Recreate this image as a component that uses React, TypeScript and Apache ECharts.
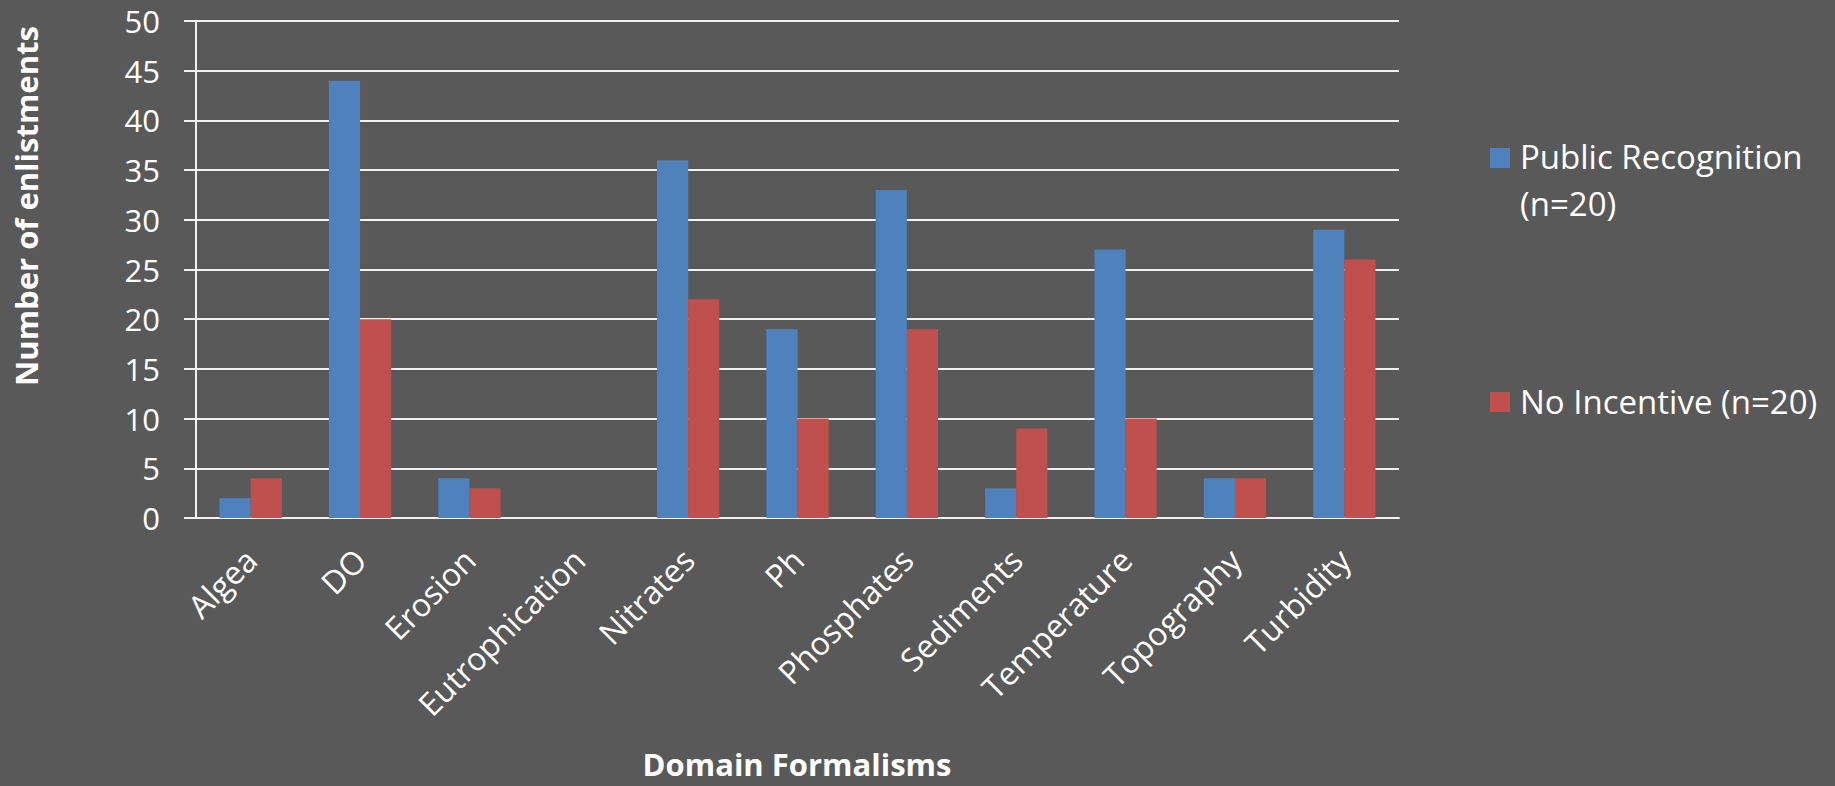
import React, { useEffect, useRef } from "react";
import * as echarts from "echarts";

const categories = [
  "Algea",
  "DO",
  "Erosion",
  "Eutrophication",
  "Nitrates",
  "Ph",
  "Phosphates",
  "Sediments",
  "Temperature",
  "Topography",
  "Turbidity",
];
const publicRecognition = [2, 44, 4, 0, 36, 19, 33, 3, 27, 4, 29];
const noIncentive = [4, 20, 3, 0, 22, 10, 19, 9, 10, 4, 26];
const seriesNames = ["Public Recognition (n=20)", "No Incentive (n=20)"];
const legendLines = [["Public Recognition", "(n=20)"], ["No Incentive (n=20)"]];
const yMin = 0;
const yMax = 50;
const yStep = 5;
const xTitle = "Domain Formalisms";
const yTitle = "Number of enlistments";

export default function App() {
  const ref = useRef<HTMLDivElement>(null);
  useEffect(() => {
    const chart = echarts.init(ref.current!, null, { renderer: "svg" });
    const font = "'Open Sans', sans-serif";
    const lineStyle = { color: "#f2f2f2", width: 2 };
    const colors = ["#4F81BD", "#C0504D"];
    chart.setOption({
      animation: false,
      backgroundColor: "#595959",
      textStyle: { fontFamily: font },
      grid: { left: 196, top: 21, right: 436, bottom: 268, containLabel: false },
      xAxis: {
        type: "category",
        data: categories,
        axisLine: { show: true, lineStyle },
        axisTick: { show: false },
        axisLabel: {
          rotate: 45,
          color: "#ffffff",
          fontSize: 32,
          fontFamily: font,
          margin: 36,
          interval: 0,
        },
      },
      yAxis: {
        type: "value",
        min: yMin,
        max: yMax,
        interval: yStep,
        axisLine: { show: true, lineStyle },
        axisTick: { show: true, length: 12, lineStyle },
        splitLine: { show: true, lineStyle },
        axisLabel: { color: "#ffffff", fontSize: 31, fontFamily: font, margin: 36 },
      },
      series: [
        {
          name: seriesNames[0],
          type: "bar",
          data: publicRecognition,
          itemStyle: { color: colors[0] },
          barGap: "0%",
          barCategoryGap: "43%",
        },
        {
          name: seriesNames[1],
          type: "bar",
          data: noIncentive,
          itemStyle: { color: colors[1] },
          barGap: "0%",
          barCategoryGap: "43%",
        },
      ],
      graphic: [
        {
          type: "text",
          x: 26,
          y: 206,
          rotation: Math.PI / 2,
          style: {
            text: yTitle,
            fill: "#ffffff",
            font: `bold 31px ${font}`,
            textAlign: "center",
            textVerticalAlign: "middle",
          },
        },
        {
          type: "text",
          x: 797,
          y: 764,
          style: {
            text: xTitle,
            fill: "#ffffff",
            font: `bold 31px ${font}`,
            textAlign: "center",
            textVerticalAlign: "middle",
          },
        },
        { type: "rect", shape: { x: 1490, y: 148, width: 20, height: 20 }, style: { fill: colors[0] } },
        { type: "rect", shape: { x: 1490, y: 392, width: 20, height: 20 }, style: { fill: colors[1] } },
        {
          type: "text",
          x: 1520,
          y: 156,
          style: { text: legendLines[0][0], fill: "#ffffff", font: `33px ${font}`, textAlign: "left", textVerticalAlign: "middle" },
        },
        {
          type: "text",
          x: 1520,
          y: 203,
          style: { text: legendLines[0][1], fill: "#ffffff", font: `33px ${font}`, textAlign: "left", textVerticalAlign: "middle" },
        },
        {
          type: "text",
          x: 1520,
          y: 401,
          style: { text: legendLines[1][0], fill: "#ffffff", font: `33px ${font}`, textAlign: "left", textVerticalAlign: "middle" },
        },
      ],
    });
    return () => chart.dispose();
  }, []);
  return (
    <div
      ref={ref}
      style={{ position: "fixed", left: 0, top: 0, width: 1835, height: 786 }}
    />
  );
}
